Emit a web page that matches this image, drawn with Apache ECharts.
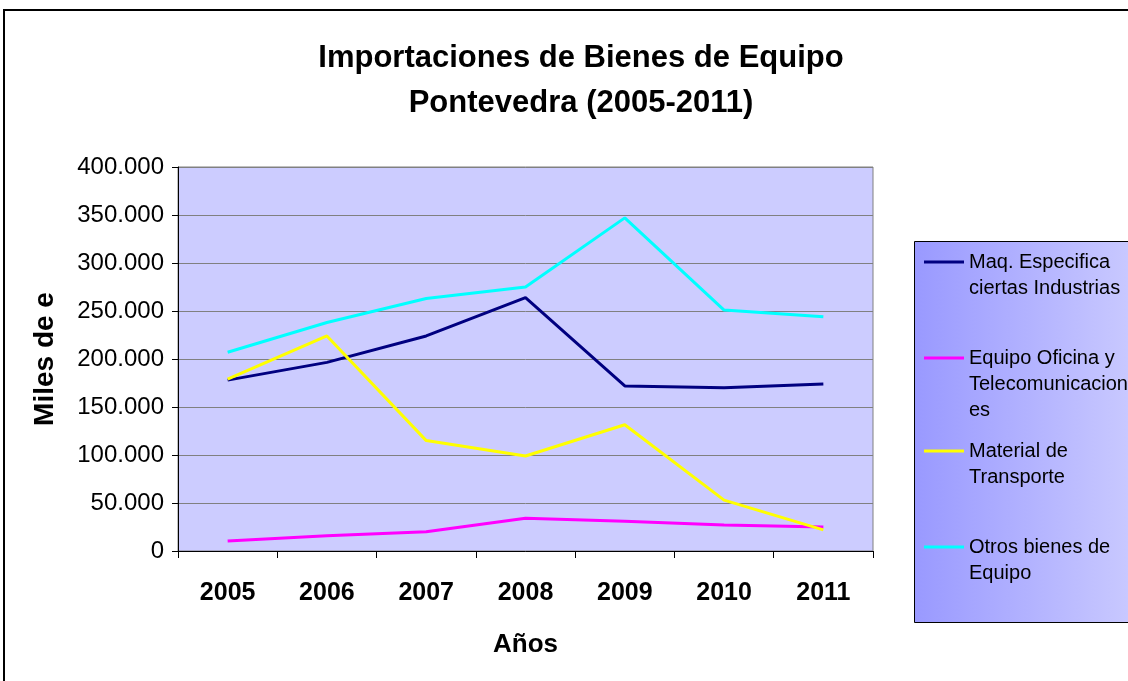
<!DOCTYPE html>
<html>
<head>
<meta charset="utf-8">
<script src="https://cdn.jsdelivr.net/npm/echarts@6/dist/echarts.min.js"></script>
<style>
  html, body { margin: 0; padding: 0; background: #fff; }
  #chart { width: 1128px; height: 681px; }
</style>
</head>
<body>
<div id="chart"></div>
<script>
const years = ['2005', '2006', '2007', '2008', '2009', '2010', '2011'];
const maqEspecifica = [178000, 196500, 224000, 264000, 172000, 170000, 174000];
const equipoOficina = [10500, 16000, 20000, 34000, 31000, 27000, 25000];
const materialTransporte = [179000, 224000, 115000, 99000, 131500, 53000, 22000];
const otrosBienes = [207000, 238000, 263000, 275000, 347000, 251000, 244000];
const seriesNames = [
  'Maq. Especifica\nciertas Industrias',
  'Equipo Oficina y\nTelecomunicacion\nes',
  'Material de\nTransporte',
  'Otros bienes de\nEquipo'
];
const seriesColors = ['#000080', '#FF00FF', '#FFFF00', '#00FFFF'];
const seriesData = [maqEspecifica, equipoOficina, materialTransporte, otrosBienes];
const legendTops = [223, 293, 412, 508];

const font = 'Liberation Sans, Arial, sans-serif';
const LH = 26;

const chart = echarts.init(document.getElementById('chart'), null, { renderer: 'canvas' });

const legends = seriesNames.map((n, i) => ({
  data: [n],
  left: 924,
  top: legendTops[i],
  orient: 'vertical',
  padding: 0,
  icon: 'rect',
  itemWidth: 40,
  itemHeight: 3,
  selectedMode: false,
  formatter: name => {
    const lines = name.split('\n');
    return ' \n'.repeat(lines.length - 1) + name;
  },
  textStyle: {
    fontFamily: font,
    fontSize: 20,
    color: '#000',
    lineHeight: LH
  }
}));

chart.setOption({
  animation: false,
  backgroundColor: '#fff',
  title: {
    text: 'Importaciones de Bienes de Equipo\nPontevedra (2005-2011)',
    left: 576,
    textAlign: 'center',
    top: 31,
    textStyle: {
      fontFamily: font,
      fontSize: 31,
      fontWeight: 'bold',
      color: '#000',
      lineHeight: 45
    }
  },
  graphic: [
    {
      type: 'rect',
      shape: { x: 4, y: 10, width: 1130, height: 680 },
      style: { fill: 'none', stroke: '#000', lineWidth: 2 },
      z: 0
    },
    {
      type: 'rect',
      shape: { x: 914.5, y: 241.5, width: 230, height: 381 },
      style: {
        fill: new echarts.graphic.LinearGradient(0, 0, 1, 0, [
          { offset: 0, color: '#9999FF' },
          { offset: 1, color: '#CCCCFF' }
        ]),
        stroke: '#000',
        lineWidth: 1
      },
      z: 0
    }
  ],
  legend: legends,
  grid: {
    left: 178,
    right: 255,
    top: 167,
    bottom: 130,
    show: true,
    backgroundColor: '#CCCCFF',
    borderColor: '#808080',
    borderWidth: 1
  },
  xAxis: {
    type: 'category',
    data: years,
    boundaryGap: true,
    name: 'Años',
    nameLocation: 'middle',
    nameGap: 81,
    nameTextStyle: { fontFamily: font, fontSize: 26, fontWeight: 'bold', color: '#000' },
    axisLine: { lineStyle: { color: '#000', width: 1 } },
    axisTick: { show: true, length: 7, inside: false, lineStyle: { color: '#000' } },
    axisLabel: {
      fontFamily: font,
      fontSize: 25,
      fontWeight: 'bold',
      color: '#000',
      margin: 30
    },
    splitLine: { show: false }
  },
  yAxis: {
    type: 'value',
    min: 0,
    max: 400000,
    interval: 50000,
    name: 'Miles de e',
    nameLocation: 'middle',
    nameGap: 119,
    nameRotate: 90,
    nameTextStyle: { fontFamily: font, fontSize: 28, fontWeight: 'bold', color: '#000' },
    axisLine: { show: true, lineStyle: { color: '#000', width: 1 } },
    axisTick: { show: true, length: 6, inside: false, lineStyle: { color: '#000' } },
    axisLabel: {
      fontFamily: font,
      fontSize: 24,
      color: '#000',
      margin: 14,
      formatter: v => v === 0 ? '0' : v.toLocaleString('de-DE')
    },
    splitLine: { show: true, lineStyle: { color: '#808080', width: 1 } }
  },
  series: seriesNames.map((n, i) => ({
    name: n,
    type: 'line',
    data: seriesData[i],
    showSymbol: false,
    symbol: 'none',
    lineStyle: { color: seriesColors[i], width: 3 },
    itemStyle: { color: seriesColors[i] },
    z: 3
  }))
});
</script>
</body>
</html>
